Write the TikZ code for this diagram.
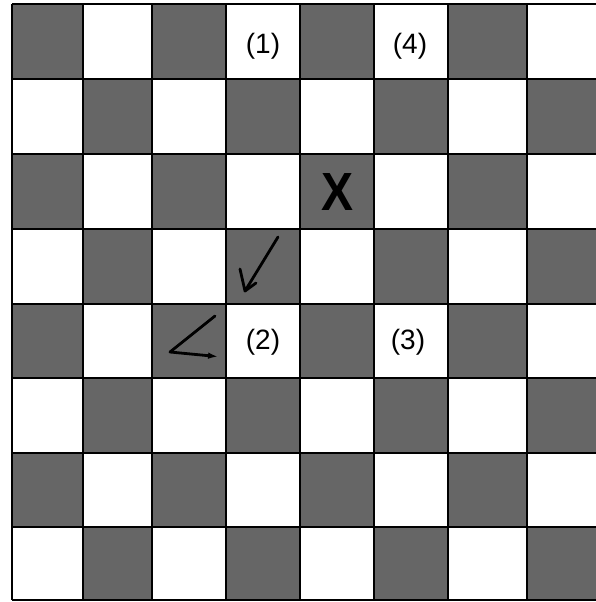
\documentclass[tikz,border=0pt]{standalone}
\usepackage{fontspec}
\setmainfont{Liberation Sans}
\usetikzlibrary{arrows.meta}
\begin{document}
\begin{tikzpicture}[x=1pt,y=-1pt,
  dark/.style={fill=black!60},
  gridline/.style={line width=1.8pt,black},
  lbl/.style={font=\fontsize{28}{28}\selectfont, inner sep=0pt},
  pen/.style={line width=2.8pt, line cap=round, line join=round}]
\useasboundingbox (0,0) rectangle (596,602);
\def\xs{{12,83,152,226,300,374,448,527,598}}
\def\ys{{4,79,154,229,304,378,453,527,600}}
\foreach \r in {0,...,7} {
  \foreach \c in {0,...,7} {
    \pgfmathtruncatemacro\myparity{mod(\r+\c,2)}
    \ifnum\myparity=0
      \pgfmathsetmacro\xa{\xs[\c]}
      \pgfmathsetmacro\xb{\xs[\c+1]}
      \pgfmathsetmacro\ya{\ys[\r]}
      \pgfmathsetmacro\yb{\ys[\r+1]}
      \fill[dark] (\xa,\ya) rectangle (\xb,\yb);
    \fi
  }
}
\foreach \i in {0,...,8} {
  \pgfmathsetmacro\x{\xs[\i]}
  \draw[gridline] (\x,4) -- (\x,600);
  \pgfmathsetmacro\y{\ys[\i]}
  \draw[gridline] (12,\y) -- (598,\y);
}
\node[lbl] (l1) at (263,46) {(1)};
\node[lbl] (l4) at (410,46) {(4)};
\node[lbl] (l2) at (263,342) {(2)};
\node[lbl] (l3) at (408,342) {(3)};
\node[font=\bfseries\fontsize{48}{48}\selectfont, inner sep=0pt] (xmark) at (338,192) {\scalebox{1}[1.12]{X}};
\coordinate (a1) at (278,237);
\coordinate (a2) at (245,291);
\coordinate (a3) at (240,269);
\coordinate (a4) at (256,283);
\draw[pen] (a1) -- (a2) -- (a3);
\draw[pen] (a2) -- (a4);
\coordinate (b1) at (215,316);
\coordinate (b2) at (170,352);
\coordinate (b3) at (222,357);
\draw[pen,-{Latex[length=14pt,width=6pt]}] (b1) -- (b2) -- (b3);
\end{tikzpicture}
\end{document}
